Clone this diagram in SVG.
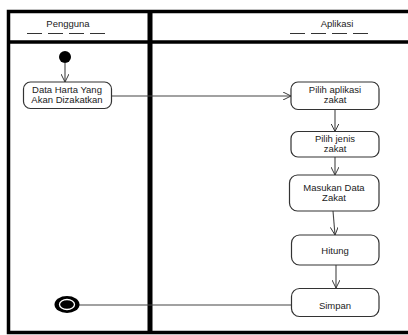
<svg xmlns="http://www.w3.org/2000/svg" width="408" height="335" viewBox="0 0 408 335">
  <defs>
    <marker id="open" viewBox="0 0 10 10" refX="10" refY="5" markerWidth="8" markerHeight="8" orient="auto" markerUnits="userSpaceOnUse">
      <path d="M0,0 L10,5 L0,10" fill="none" stroke="#333" stroke-width="1.2"/>
    </marker>
    <style>
      .frame { fill: none; stroke: #000; }
      .act { fill: #fff; stroke: #333; stroke-width: 1.2; }
      .lbl { font-family: "Liberation Sans", Arial, sans-serif; font-size: 9.5px; fill: #222; text-anchor: middle; }
      .edge { fill: none; stroke: #444; stroke-width: 1.1; }
      .dash { stroke: #333; stroke-width: 1; stroke-dasharray: 15 6; }
    </style>
  </defs>
  <rect width="408" height="335" fill="#fff"/>

  <!-- swimlane frame -->
  <g id="lanes">
    <rect class="frame" x="8.5" y="11.5" width="404" height="321" stroke-width="3.5"/>
    <line class="frame" x1="8" y1="42" x2="410" y2="42" stroke-width="3.5"/>
    <line class="frame" x1="150" y1="10" x2="150" y2="334" stroke-width="5"/>
    <text class="lbl" x="68" y="27">Pengguna</text>
    <line class="dash" x1="27" y1="33.5" x2="108" y2="33.5"/>
    <text class="lbl" x="337" y="27">Aplikasi</text>
    <line class="dash" x1="290" y1="33.5" x2="371" y2="33.5"/>
  </g>

  <!-- connectors -->
  <g id="connectors">
    <line class="edge" x1="65" y1="63" x2="65" y2="82" marker-end="url(#open)"/>
    <line class="edge" x1="112" y1="96" x2="291" y2="96" marker-end="url(#open)"/>
    <line class="edge" x1="335" y1="109.5" x2="335" y2="131.5" marker-end="url(#open)"/>
    <line class="edge" x1="335" y1="157" x2="335" y2="175" marker-end="url(#open)"/>
    <line class="edge" x1="333" y1="211" x2="335" y2="235" marker-end="url(#open)"/>
    <line class="edge" x1="336" y1="265" x2="336" y2="288" marker-end="url(#open)"/>
    <line class="edge" x1="292" y1="305" x2="79" y2="305"/>
  </g>

  <g id="start">
    <circle cx="65" cy="57" r="6" fill="#000"/>
  </g>

  <g id="data-harta">
    <rect class="act" x="23.5" y="82" width="88" height="26.5" rx="7"/>
    <text class="lbl" x="67" y="93">Data Harta Yang</text>
    <text class="lbl" x="67" y="103">Akan Dizakatkan</text>
  </g>

  <g id="pilih-aplikasi">
    <rect class="act" x="291" y="82" width="88" height="27.5" rx="7"/>
    <text class="lbl" x="335" y="93">Pilih aplikasi</text>
    <text class="lbl" x="335" y="103">zakat</text>
  </g>

  <g id="pilih-jenis">
    <rect class="act" x="291" y="131.5" width="88" height="25.5" rx="7"/>
    <text class="lbl" x="335" y="142">Pilih jenis</text>
    <text class="lbl" x="335" y="152">zakat</text>
  </g>

  <g id="masukan-data">
    <rect class="act" x="289.5" y="175" width="89.5" height="36" rx="8"/>
    <text class="lbl" x="334" y="191">Masukan Data</text>
    <text class="lbl" x="334" y="201">Zakat</text>
  </g>

  <g id="hitung">
    <rect class="act" x="291.5" y="235" width="87.5" height="30" rx="8"/>
    <text class="lbl" x="335" y="254">Hitung</text>
  </g>

  <g id="simpan">
    <rect class="act" x="291.5" y="288.5" width="87.5" height="28" rx="8"/>
    <text class="lbl" x="335" y="308.5">Simpan</text>
  </g>

  <g id="end">
    <ellipse cx="67" cy="304.5" rx="12.5" ry="8.5" fill="#000"/>
    <ellipse cx="67" cy="304.5" rx="7.5" ry="5" fill="none" stroke="#fff" stroke-width="1.3"/>
  </g>
</svg>
